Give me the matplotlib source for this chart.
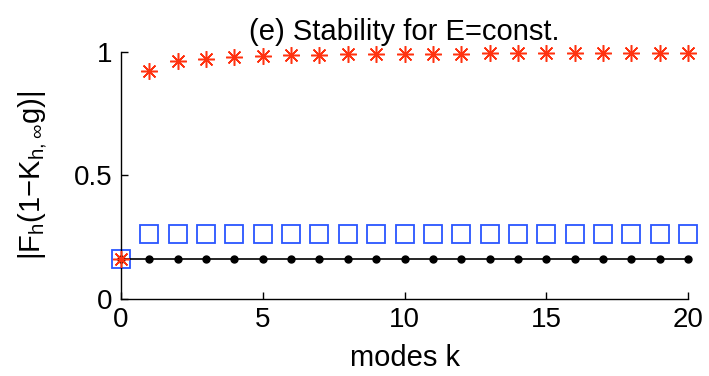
import numpy as np
import matplotlib.pyplot as plt

plt.rcParams['font.family'] = ['Liberation Sans', 'DejaVu Sans']

# data
modes = np.arange(0, 21)
exact = [0.16] * 21
squares = [0.16] + [0.263] * 20
stars = [0.16, 0.925, 0.962, 0.973, 0.980, 0.984, 0.987, 0.989, 0.990, 0.991,
         0.992, 0.993, 0.993, 0.994, 0.994, 0.995, 0.995, 0.995, 0.996, 0.996, 0.996]

xticks = [0, 5, 10, 15, 20]
yticks = [0, 0.5, 1]
ytick_labels = ['0', '0.5', '1']

fig = plt.figure(figsize=(7.09, 3.76), dpi=100)
ax = fig.add_axes([0.1707, 0.2048, 0.7997, 0.6569])

ax.plot(modes, exact, '-', color='black', lw=1.2, marker='o', ms=5,
        markerfacecolor='black', markeredgecolor='black', clip_on=False, zorder=3)
ax.plot(modes, squares, ls='none', marker='s', ms=13, markerfacecolor='none',
        markeredgecolor='#2a55ff', mew=1.3, clip_on=False, zorder=2)
ax.plot(modes, stars, ls='none', marker=(8, 2, 0), ms=12,
        markeredgecolor='#ff3311', color='#ff3311', mew=1.1, clip_on=False, zorder=4)

ax.set_xlim(0, 20)
ax.set_ylim(0, 1)
ax.set_xticks(xticks)
ax.set_yticks(yticks)
ax.set_yticklabels(ytick_labels)
ax.tick_params(direction='in', length=5, labelsize=20, width=1, pad=6)
ax.spines['top'].set_visible(False)
ax.spines['right'].set_visible(False)
for s in ['left', 'bottom']:
    ax.spines[s].set_linewidth(1.0)

ax.set_title('(e) Stability for E=const.', fontsize=21, pad=9)
ax.set_xlabel('modes k', fontsize=21, labelpad=8)
ax.set_ylabel(r'|F$_\mathregular{h}$(1−K$_\mathregular{h,\infty}$g)|', fontsize=21, labelpad=18)

fig.savefig('out.png', dpi=100)
